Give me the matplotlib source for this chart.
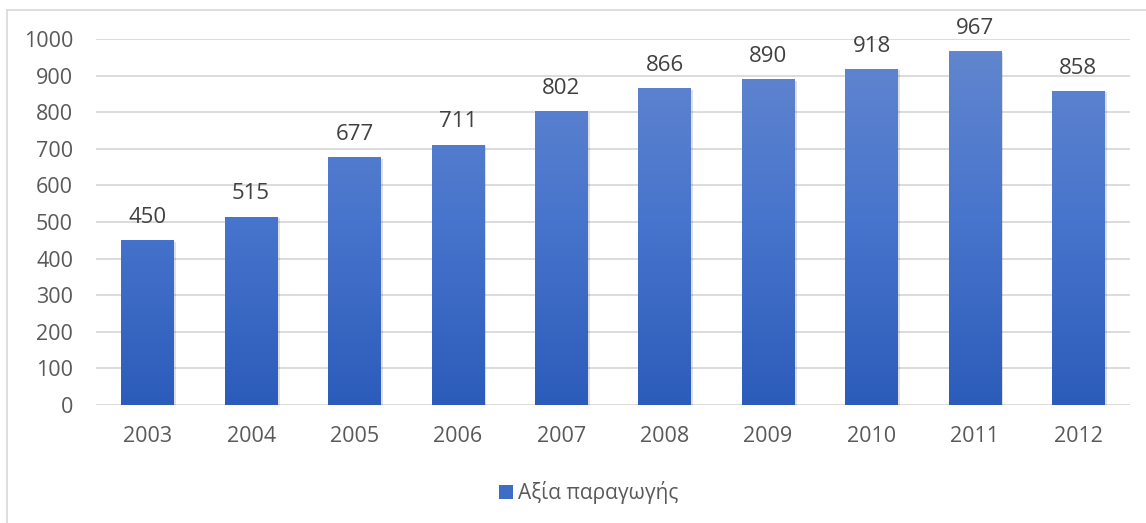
import matplotlib
matplotlib.use("Agg")
import matplotlib.pyplot as plt
import numpy as np
from matplotlib.colors import LinearSegmentedColormap
from matplotlib.patches import Rectangle

plt.rcParams['font.family'] = ['Open Sans', 'DejaVu Sans']

years = ['2003', '2004', '2005', '2006', '2007', '2008', '2009', '2010', '2011', '2012']
values = [450, 515, 677, 711, 802, 866, 890, 918, 967, 858]
series_name = 'Αξία παραγωγής'
yticks = [0, 100, 200, 300, 400, 500, 600, 700, 800, 900, 1000]

text_col = '#595959'
grid_col = '#d9d9d9'
# gradient from bottom (dark) to top (light)
grad = LinearSegmentedColormap.from_list('bar', ['#2c5cba', '#4774cc', '#6387cf'])

fig = plt.figure(figsize=(11.46, 5.23), dpi=100)
ax = fig.add_axes([96/1146, 1 - 405/523, (1130 - 96)/1146, (405 - 39)/523])

x = np.arange(len(years))
width = 0.51
bars = ax.bar(x, values, width=width, color='none', zorder=3)

gradimg = np.linspace(0, 1, 256).reshape(-1, 1)
for b, v in zip(bars, values):
    x0 = b.get_x()
    # soft shadow
    ax.add_patch(Rectangle((x0 + 0.02, -4), width, v, facecolor='#000000',
                           alpha=0.12, edgecolor='none', zorder=2))
    im = ax.imshow(gradimg, cmap=grad, origin='lower', aspect='auto',
                   extent=[x0, x0 + width, 0, 1000], zorder=3)
    im.set_clip_path(b)
    ax.text(b.get_x() + width / 2, v + 34, str(v), ha='center', va='bottom',
            fontsize=16, color='#404040', zorder=4, clip_on=False)

ax.set_xlim(-0.5, len(years) - 0.5)
ax.set_ylim(0, 1000)
ax.set_xticks(x)
ax.set_xticklabels(years)
ax.set_yticks(yticks)
ax.yaxis.grid(True, color=grid_col, linewidth=1.3, zorder=0)
ax.set_axisbelow(True)
for s in ax.spines.values():
    s.set_visible(False)
ax.tick_params(axis='both', length=0, labelsize=15.5, labelcolor=text_col)
ax.tick_params(axis='x', pad=15)
ax.tick_params(axis='y', pad=16.5)

# legend
fig.patches.append(Rectangle((499/1146, 1 - 499/523), 14/1146, 14/523,
                             transform=fig.transFigure, facecolor='#3f6cc6',
                             edgecolor='none'))
fig.text(518/1146, 1 - 492/523, series_name, fontsize=15, color=text_col,
         ha='left', va='center')

# chart border
fig.add_artist(plt.Line2D([7/1146, 7/1146], [0, 1 - 10/523], color=grid_col,
                          linewidth=1.2, transform=fig.transFigure))
fig.add_artist(plt.Line2D([7/1146, 1], [1 - 10/523, 1 - 10/523], color=grid_col,
                          linewidth=1.2, transform=fig.transFigure))

plt.savefig('out.png', dpi=100)
